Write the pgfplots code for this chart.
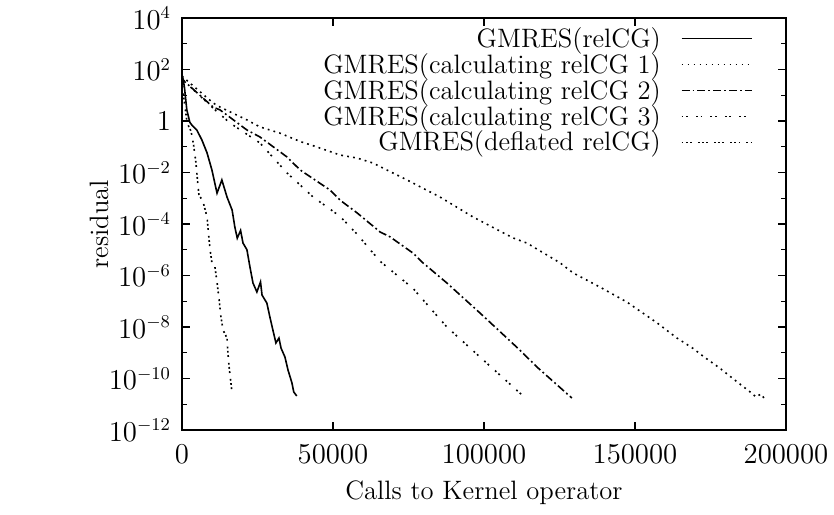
\documentclass[border=0pt]{standalone}
\usepackage{pgfplots}
\pgfplotsset{compat=1.18}

\begin{document}
\begin{tikzpicture}
\path[use as bounding box] (-91pt,-42pt) rectangle (326pt,215pt);
\begin{axis}[
  scale only axis,
  width=302pt, height=206pt,
  font=\fontsize{13.3}{16}\selectfont,
  xmin=0, xmax=200000,
  ymin=1e-12, ymax=1e4,
  ymode=log,
  axis line style={line width=0.9pt},
  tick align=inside,
  major tick length=4pt,
  minor tick length=2.5pt,
  every tick/.style={black, line width=0.6pt},
  xtick={0,50000,100000,150000,200000},
  scaled x ticks=false,
  xticklabel style={/pgf/number format/fixed, /pgf/number format/1000 sep={}, yshift=-4pt},
  ytick={1e-12,1e-10,1e-8,1e-6,1e-4,1e-2,1,1e2,1e4},
  yticklabels={$10^{-12}$,$10^{-10}$,$10^{-8}$,$10^{-6}$,$10^{-4}$,$10^{-2}$,$1$,$10^{2}$,$10^{4}$},
  minor ytick={1e-11,1e-9,1e-7,1e-5,1e-3,1e-1,1e1,1e3},
  yticklabel style={xshift=-2pt},
  xlabel={Calls to Kernel operator},
  ylabel={residual},
  xlabel style={at={(axis description cs:0.5,0)}, yshift=-31.5pt, anchor=center},
  ylabel style={at={(axis description cs:-0.137,0.5)}, anchor=center},
  legend plot pos=right,
  legend cell align=right,
  legend style={draw=none, fill=none, at={(axis description cs:0.955,0.998)}, anchor=north east, row sep=-2.5pt, column sep=8pt, font=\fontsize{13.3}{16}\selectfont},
  legend image code/.code={\draw[#1] (0pt,0pt) -- (35pt,0pt);},
  every axis plot/.append style={line width=0.8pt, black},
]

% GMRES(relCG)
\addplot[solid] coordinates {
(0,61.7) (400,39.8) (800,20.9) (1600,2.69) (2600,0.89) (3300,0.69)
(4900,0.447) (6600,0.182) (8300,0.0575) (9900,0.0126) (11600,1.58e-3)
(13200,5.13e-3) (14900,1.12e-3) (16600,3.47e-4) (17500,7.59e-5)
(18300,2.82e-5) (19400,5.62e-5) (20200,1.82e-5) (21500,1e-5)
(22500,2.14e-6) (23500,5.13e-7) (24800,2.29e-7) (26000,5.62e-7)
(26500,1.74e-7) (28100,8.51e-8) (29100,2.45e-8) (30100,7.59e-9)
(31100,2.4e-9) (32100,3.72e-9) (32800,1.51e-9) (34100,6.76e-10)
(35100,2.14e-10) (36400,6.76e-11) (37000,3.02e-11) (38000,2.09e-11)
};
\addlegendentry{GMRES(relCG)}

% GMRES(calculating relCG 1)
\addplot[dash pattern=on 0.9pt off 2.1pt] coordinates {
(0,56) (300,51) (10300,5.0) (12600,3.47) (21500,1.1) (25800,0.589)
(32400,0.339) (39100,0.16) (43400,0.11) (52300,0.0479) (58000,0.0363)
(63200,0.0234) (74500,5.13e-3) (85400,1.12e-3) (96400,1.86e-4)
(109600,2.88e-5) (114200,1.82e-5) (125200,3.09e-6) (129500,1.26e-6)
(138400,3.55e-7) (147300,9.33e-8) (157300,1.45e-8) (163900,3.72e-9)
(169200,1.48e-9) (172500,7.41e-10) (178100,2.51e-10) (183800,7.41e-11)
(188100,3.02e-11) (190100,1.91e-11) (191700,2.51e-11) (193000,1.58e-11)
};
\addlegendentry{GMRES(calculating relCG 1)}

% GMRES(calculating relCG 2)
\addplot[dash pattern=on 4pt off 1.5pt on 0.9pt off 1.5pt] coordinates {
(0,56) (300,38.9) (10300,3.47) (12600,2.69) (21500,0.447) (25800,0.24)
(34800,0.0398) (39100,0.0126) (49000,2.09e-3) (52300,8.51e-4)
(58000,2.69e-4) (65600,4.9e-5) (68900,3.16e-5) (76500,7.41e-6)
(79800,3.09e-6) (87700,5.13e-7) (98700,3.47e-8) (111900,1.26e-9)
(117500,2.82e-10) (129100,1.74e-11)
};
\addlegendentry{GMRES(calculating relCG 2)}

% GMRES(calculating relCG 3)
\addplot[dash pattern=on 0.9pt off 1.4pt on 0.9pt off 4pt] coordinates {
(0,56) (300,39.8) (10300,3.16) (15900,0.832) (25800,0.141)
(34800,9.55e-3) (43400,1.12e-3) (52300,2.0e-4) (58000,3.98e-5)
(65600,3.55e-6) (76500,3.16e-7) (87700,1e-8) (98700,6.76e-10)
(112600,2.29e-11)
};
\addlegendentry{GMRES(calculating relCG 3)}

% GMRES(deflated relCG)
\addplot[dash pattern=on 0.9pt off 1.2pt on 0.9pt off 1.2pt on 0.9pt off 3pt] coordinates {
(0,50) (600,7.9) (1700,0.832) (3000,0.398) (3800,0.126) (4600,0.0251)
(5200,3.98e-3) (5600,1.41e-3) (7000,7.08e-4) (8300,1.86e-4)
(8800,3.98e-5) (9300,1e-5) (9900,3.16e-6) (10900,2.14e-6)
(11600,5.62e-7) (12300,1.12e-7) (12900,2.45e-8) (13600,7.59e-9)
(14900,3.72e-9) (15200,1e-9) (15600,2.82e-10) (16200,6.76e-11)
(16600,2.51e-11)
};
\addlegendentry{GMRES(deflated relCG)}

\end{axis}
\end{tikzpicture}
\end{document}
